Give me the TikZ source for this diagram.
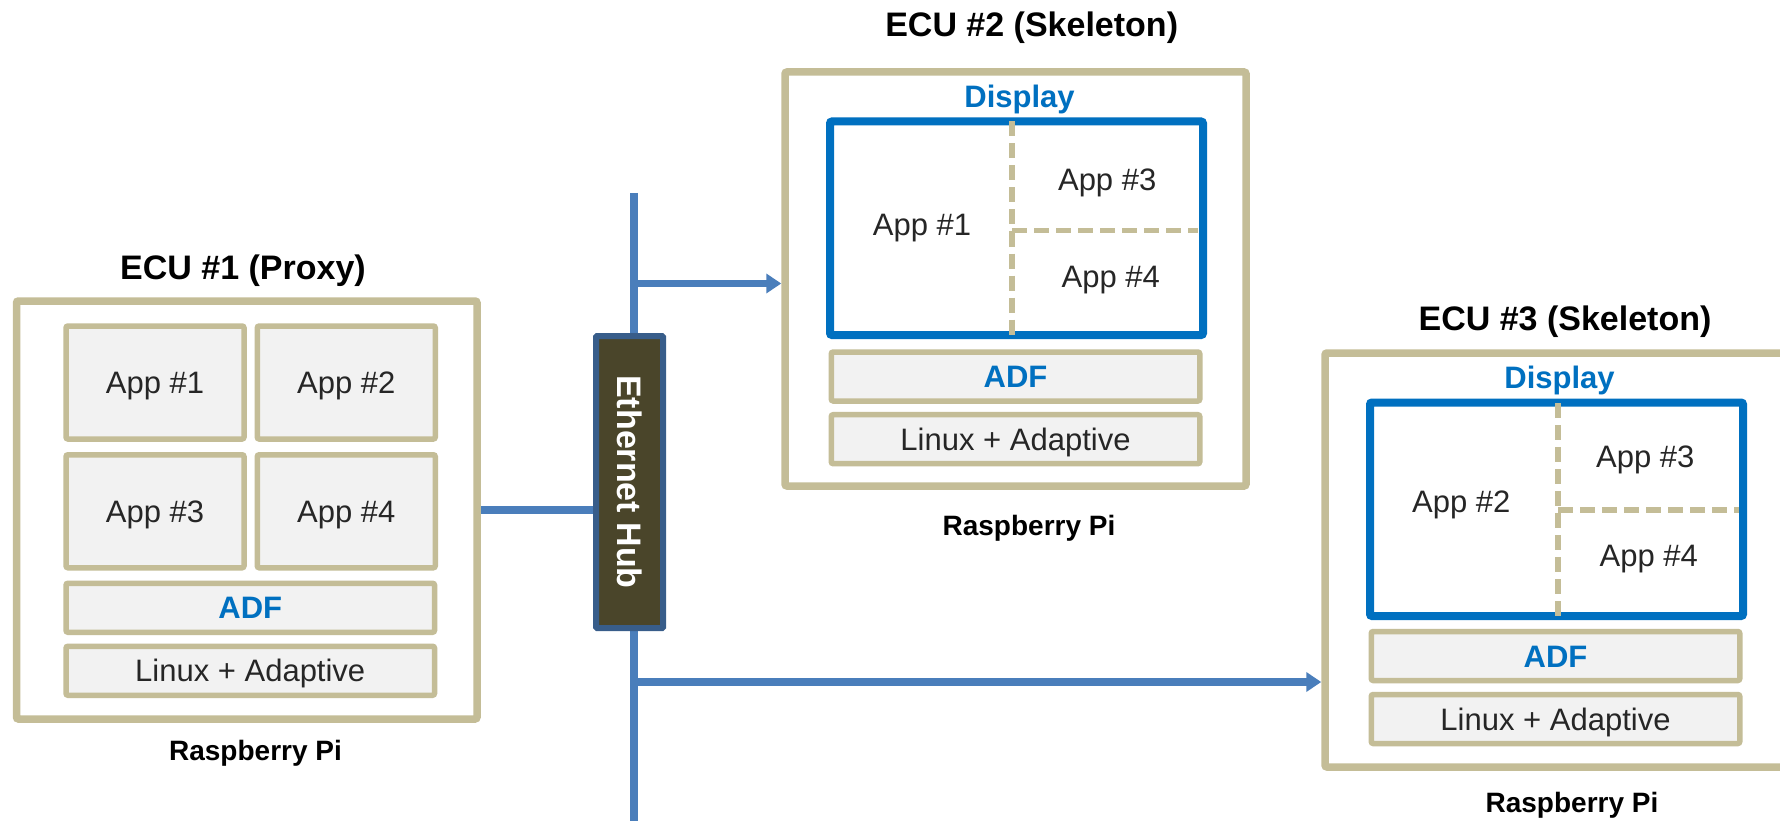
\documentclass[tikz,border=0pt]{standalone}
\usepackage{fontspec}
\setmainfont{Liberation Sans}
\usetikzlibrary{calc,arrows.meta}
\definecolor{tan}{HTML}{C4BD97}
\definecolor{boxgray}{HTML}{F2F2F2}
\definecolor{dispblue}{HTML}{0070C0}
\definecolor{busblue}{HTML}{4A7EBB}
\definecolor{hubfill}{HTML}{4A452A}
\definecolor{hubline}{HTML}{385D8A}
\definecolor{ink}{HTML}{262626}
\newcommand{\ecufont}{\fontsize{34}{40}\selectfont\bfseries}
\newcommand{\appfont}{\fontsize{31}{37}\selectfont}
\newcommand{\tagfont}{\fontsize{31}{37}\selectfont\bfseries}
\newcommand{\boardfont}{\fontsize{28}{34}\selectfont\bfseries}
\tikzset{
  ecu/.style={draw=tan, line width=7.5pt, fill=white, rounded corners=2pt, inner sep=0pt},
  app/.style={draw=tan, line width=5.5pt, fill=boxgray, rounded corners=2pt, inner sep=0pt,
    minimum width=178pt, minimum height=113pt, font=\appfont, text=ink, text height=22pt, text depth=0pt},
  layer/.style={app, minimum width=368.5pt, minimum height=49pt},
  adf/.style={layer, font=\tagfont, text=dispblue},
  disp/.style={draw=dispblue, line width=8pt, rounded corners=2pt, inner sep=0pt,
    minimum width=373pt, minimum height=213.5pt},
  split/.style={draw=tan, line width=5.5pt, dash pattern=on 15pt off 7pt},
  lab/.style={font=\appfont, text=ink, inner sep=0pt, text height=22pt, text depth=0pt},
  tag/.style={font=\tagfont, text=dispblue, inner sep=0pt, text height=22.2pt, text depth=0pt},
  head/.style={font=\ecufont, inner sep=0pt, text height=24.3pt, text depth=0pt},
  board/.style={font=\boardfont, inner sep=0pt, text height=20pt, text depth=0pt},
  bus/.style={draw=busblue, line width=7.5pt},
  link/.style={bus, -{Triangle[length=15pt,width=19pt]}},
  hub/.style={draw=hubline, line width=6pt, fill=hubfill, rounded corners=1pt, inner sep=0pt,
    minimum width=67pt, minimum height=292pt, text=white, font=\ecufont},
}

\begin{document}
\begin{tikzpicture}[x=1pt, y=-1pt]
  \useasboundingbox (0,0) rectangle (1780,821);
  % ECU #1
  \node[ecu, minimum width=460.5pt, minimum height=418pt] (ecu1) at (246.75,510) {};
  \node[head] (head1) at (243,267) {ECU \#1 (Proxy)};
  \node[app] (app11) at (155,382.5) {App \#1};
  \node[app] (app12) at (346.25,382.5) {App \#2};
  \node[app] (app13) at (155,511.25) {App \#3};
  \node[app] (app14) at (346.25,511.25) {App \#4};
  \node[adf] (adf1) at (250.25,607.75) {ADF};
  \node[layer] (os1) at (250.25,670.75) {Linux + Adaptive};
  \node[board] (board1) at (255.5,750) {Raspberry Pi};
  % ECU #2
  \node[ecu, minimum width=461pt, minimum height=414pt] (ecu2) at (1015.5,279) {};
  \node[head] (head2) at (1031.7,24.7) {ECU \#2 (Skeleton)};
  \node[tag] (tag2) at (1019.5,96.7) {Display};
  \node[disp] (disp2) at (1016.5,228.25) {};
  \draw[split] (1012,121.5) -- (1012,335);
  \draw[split] (1012,230.7) -- (1198,230.7);
  \node[lab] (app21) at (922,224.2) {App \#1};
  \node[lab] (app23) at (1107.2,179.2) {App \#3};
  \node[lab] (app24) at (1110.8,276.5) {App \#4};
  \node[adf] (adf2) at (1015.5,376.5) {ADF};
  \node[layer] (os2) at (1015.5,439.2) {Linux + Adaptive};
  \node[board] (board2) at (1029,525) {Raspberry Pi};
  % ECU #3
  \node[ecu, minimum width=461pt, minimum height=414pt] (ecu3) at (1555.5,560) {};
  \node[head] (head3) at (1565,318) {ECU \#3 (Skeleton)};
  \node[tag] (tag3) at (1559.5,377.5) {Display};
  \node[disp] (disp3) at (1556.5,509.25) {};
  \draw[split] (1558,403) -- (1558,616);
  \draw[split] (1558,510) -- (1739,510);
  \node[lab] (app32) at (1461.2,501.7) {App \#2};
  \node[lab] (app33) at (1645.2,456.8) {App \#3};
  \node[lab] (app34) at (1648.8,555) {App \#4};
  \node[adf] (adf3) at (1555.5,656) {ADF};
  \node[layer] (os3) at (1555.5,719) {Linux + Adaptive};
  \node[board] (board3) at (1572,802.3) {Raspberry Pi};
  % network
  \coordinate (bustop) at (634,193);
  \coordinate (busbot) at (634,830);
  \coordinate (tap2) at (634,283.5);
  \coordinate (tap3) at (634,682);
  \draw[bus] (bustop) -- (busbot);
  \node[hub] (hub) at (629.5,482) {\rotatebox{-90}{Ethernet Hub}};
  \draw[bus] (ecu1.east) -- (ecu1.east -| hub.west);
  \draw[link] (tap2) -- (tap2 -| ecu2.west);
  \draw[link] (tap3) -- (tap3 -| ecu3.west);
\end{tikzpicture}
\end{document}
